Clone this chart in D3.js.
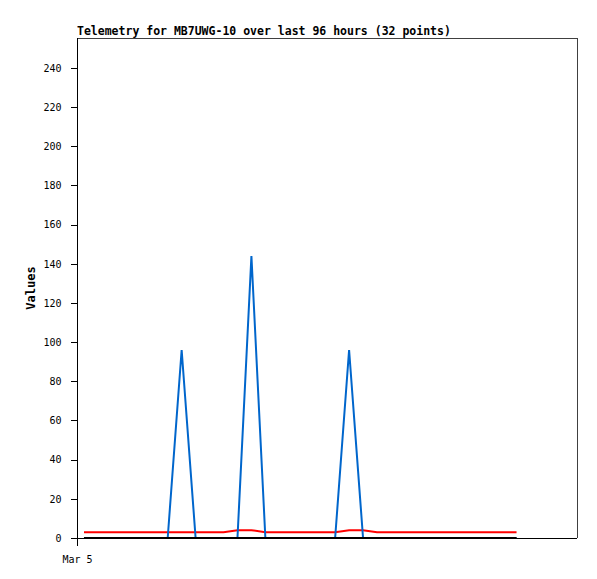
<!DOCTYPE html>
<html><head><meta charset="utf-8">
<script src="https://cdn.jsdelivr.net/npm/d3@7"></script>
<style>body{margin:0;background:#fff}svg{display:block}</style>
</head><body>
<svg id="c" width="597" height="579"></svg>
<script>
const titleText = "Telemetry for MB7UWG-10 over last 96 hours (32 points)";
const yLabel = "Values";
// hours since Mar 5 00:00 for each of the 32 samples
const hours = [1.5,4.5,7.5,10.5,13.5,16.5,19.5,22.5,25.5,28.5,31.5,34.5,37.5,40.5,43.5,46.5,
               49.5,52.5,55.5,58.5,61.5,64.5,67.5,70.5,73.5,76.5,79.5,82.5,85.5,88.5,91.5,94.5];
const blueValues = [0,0,0,0,0,0,0,96,0,0,0,0,144,0,0,0,0,0,0,96,0,0,0,0,0,0,0,0,0,0,0,0];
const redValues  = [3,3,3,3,3,3,3,3,3,3,3,4,4,3,3,3,3,3,3,4,4,3,3,3,3,3,3,3,3,3,3,3];
const blackValues= [0,0,0,0,0,0,0,0,0,0,0,0,0,0,0,0,0,0,0,0,0,0,0,0,0,0,0,0,0,0,0,0];
const yTicks = [0,20,40,60,80,100,120,140,160,180,200,220,240];
const xTicks = [0];
const xTickLabels = ["Mar 5"];

const svg = d3.select("#c");
const L = 77, R = 577, T = 38, B = 538;
const x = d3.scaleLinear().domain([0, 107.5]).range([L, R]);
const y = d3.scaleLinear().domain([0, 255.3]).range([B, T]);
const mono = "'DejaVu Sans Mono', 'Liberation Mono', monospace";

// frame
svg.append("line").attr("x1", L).attr("x2", R).attr("y1", T + 0.5).attr("y2", T + 0.5).attr("stroke", "#404040").attr("shape-rendering","crispEdges");
svg.append("line").attr("x1", R + 0.5).attr("x2", R + 0.5).attr("y1", T).attr("y2", B).attr("stroke", "#404040").attr("shape-rendering","crispEdges");

// series
const line = vals => d3.line().x((d, i) => x(hours[i])).y(d => y(d))(vals);
svg.append("path").attr("d", line(redValues)).attr("fill","none").attr("stroke","#ff0000").attr("stroke-width",2);
svg.append("path").attr("d", line(blueValues)).attr("fill","none").attr("stroke","#0066cc").attr("stroke-width",2);
svg.append("path").attr("d", line(blackValues)).attr("fill","none").attr("stroke","#000").attr("stroke-width",2);

// y axis
const ya = svg.append("g").attr("transform", `translate(${L + 0.5},0)`)
  .call(d3.axisLeft(y).tickValues(yTicks).tickSize(7).tickPadding(9).tickSizeOuter(0));
ya.select(".domain").attr("d", `M0,${T}V${B + 7}`).attr("stroke","#000").attr("shape-rendering","crispEdges");
ya.selectAll(".tick line").attr("stroke","#000").attr("shape-rendering","crispEdges");
ya.selectAll(".tick text").attr("font-family", mono).attr("font-size", 10).attr("fill","#000");

// x axis
const xa = svg.append("g").attr("transform", `translate(0,${B + 0.5})`)
  .call(d3.axisBottom(x).tickValues(xTicks).tickFormat((d, i) => xTickLabels[i]).tickSize(7).tickPadding(10).tickSizeOuter(0));
xa.select(".domain").attr("d", `M${L},0H${R}`).attr("stroke","#000").attr("shape-rendering","crispEdges");
xa.selectAll(".tick line").attr("stroke","#000").attr("shape-rendering","crispEdges");
xa.selectAll(".tick text").attr("font-family", mono).attr("font-size", 10).attr("fill","#000");

// title
svg.append("text").attr("x", L).attr("y", 35).text(titleText)
  .attr("font-family", mono).attr("font-size", 11.5).attr("font-weight","bold");

// y label
svg.append("text").attr("transform", `translate(35,${(T + B) / 2}) rotate(-90)`)
  .attr("text-anchor","middle").text(yLabel)
  .attr("font-family", mono).attr("font-size", 12).attr("font-weight","bold");
</script>
</body></html>
